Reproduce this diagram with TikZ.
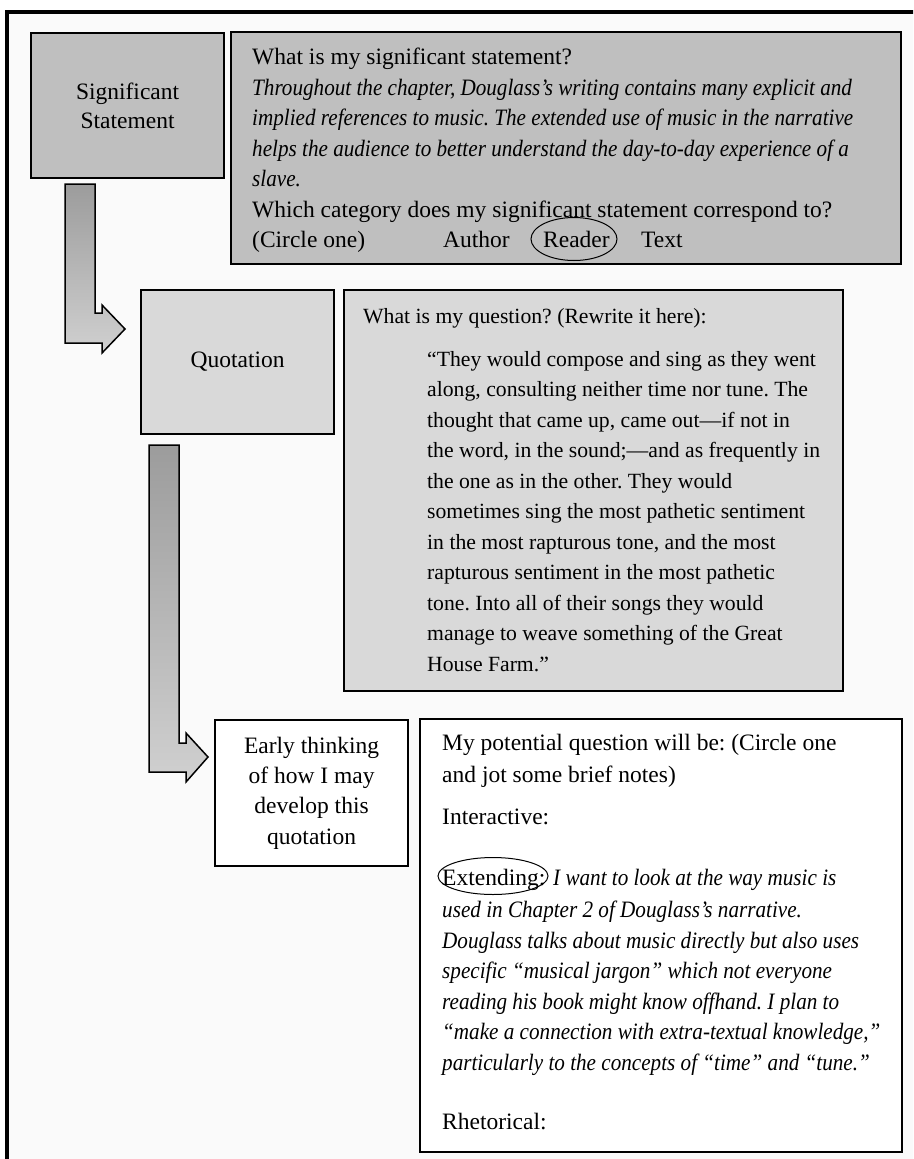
\documentclass[tikz,border=0pt]{standalone}
\usepackage{fontspec}
\setmainfont{Liberation Serif}[ItalicFeatures={FakeStretch=0.9}]
\frenchspacing
\definecolor{darkfill}{HTML}{BFBFBF}
\definecolor{lightfill}{HTML}{D9D9D9}
\definecolor{pagebg}{HTML}{FAFAFA}
\definecolor{arrowtop}{HTML}{9C9C9C}
\definecolor{arrowbot}{HTML}{D0D0D0}
\tikzset{
  box/.style={draw=black, line width=2.2pt, inner sep=0pt, anchor=north west, align=center,
              font=\fontsize{23.5}{29}\selectfont},
  bodytext/.style={inner sep=0pt, align=left, font=\fontsize{23.5}{30.5}\selectfont},
  quotetext/.style={inner sep=0pt, align=left, font=\fontsize{21.7}{30.5}\selectfont},
  word/.style={inner sep=0pt, anchor=base west, font=\fontsize{23.5}{30.5}\selectfont},
  bigarrow/.style={draw=black, line width=1.5pt, top color=arrowtop, bottom color=arrowbot, line join=miter},
  ring/.style={draw=black, line width=1pt}
}
\begin{document}
\begin{tikzpicture}[x=1pt,y=-1pt]
\useasboundingbox (0,0) rectangle (913,1159);
\clip (0,0) rectangle (913,1159);
\fill[white] (0,0) rectangle (913,1159);
% outer frame
\draw[line width=3.5pt, fill=pagebg] (7,12) rectangle (940,1190);

% boxes
\node[box, fill=darkfill, minimum width=193, minimum height=145] (sig) at (30,32) {Significant\\Statement};
\node[box, fill=darkfill, minimum width=670, minimum height=232] (sigq) at (230,31) {};
\node[box, fill=lightfill, minimum width=193, minimum height=144, font=\fontsize{23.5}{29}\selectfont] (quo) at (140,289) {Quotation};
\node[box, fill=lightfill, minimum width=499, minimum height=401] (quoq) at (343,289) {};
\node[box, fill=white, minimum width=193, minimum height=146, font=\fontsize{23.5}{30.3}\selectfont] (early) at (214,719) {Early thinking\\of how I may\\develop this\\quotation};
\node[box, fill=white, minimum width=482, minimum height=433] (pot) at (419,718) {};

% arrows
\draw[bigarrow] (65,184) -- (95,184) -- (95,313) -- (102,313) -- (102,305) -- (125,329)
  -- (102,353) -- (102,343) -- (65,343) -- cycle;
\draw[bigarrow] (149,445) -- (179,445) -- (179,743) -- (186,743) -- (186,733) -- (208,757)
  -- (186,782) -- (186,772) -- (149,772) -- cycle;

% box 2 text
\node[bodytext, anchor=north west] (sigqtxt) at (252,48) {What is my significant statement?\\
\textit{Throughout the chapter, Douglass’s writing contains many explicit and}\\
\textit{implied references to music. The extended use of music in the narrative}\\
\textit{helps the audience to better understand the day-to-day experience of a}\\
\textit{slave.}\\
Which category does my significant statement correspond to?};
\node[word] (circ) at (252,247) {(Circle one)};
\node[word] (auth) at (443,247) {Author};
\node[word] (read) at (543,247) {Reader};
\node[word] (textc) at (641,247) {Text};
\draw[ring] (574,239) ellipse [x radius=43, y radius=21.5];

% box 4 text
\node[quotetext, anchor=north west] (qhead) at (363,308) {What is my question? (Rewrite it here):};
\node[quotetext, anchor=north west] (qbody) at (427,351) {“They would compose and sing as they went\\
along, consulting neither time nor tune. The\\
thought that came up, came out—if not in\\
the word, in the sound;—and as frequently in\\
the one as in the other. They would\\
sometimes sing the most pathetic sentiment\\
in the most rapturous tone, and the most\\
rapturous sentiment in the most pathetic\\
tone. Into all of their songs they would\\
manage to weave something of the Great\\
House Farm.”};

% box 6 text
\node[bodytext, anchor=north west, font=\fontsize{23.5}{32}\selectfont] (pothead) at (442,734) {My potential question will be: (Circle one\\and jot some brief notes)};
\node[word] (inter) at (442,824) {Interactive:};
\node[word] (ext) at (442,885) {Extending:};
\draw[ring] (493,876) ellipse [x radius=55, y radius=18.5];
\node[word] (extA) at (553,885) {\textit{I want to look at the way music is}};
\node[bodytext, anchor=north west] (extB) at (442,901) {\textit{used in Chapter 2 of Douglass’s narrative.}\\
\textit{Douglass talks about music directly but also uses}\\
\textit{specific “musical jargon” which not everyone}\\
\textit{reading his book might know offhand. I plan to}\\
\textit{“make a connection with extra-textual knowledge,”}\\
\textit{particularly to the concepts of “time” and “tune.”}};
\node[word] (rhet) at (442,1129) {Rhetorical:};
\end{tikzpicture}
\end{document}
